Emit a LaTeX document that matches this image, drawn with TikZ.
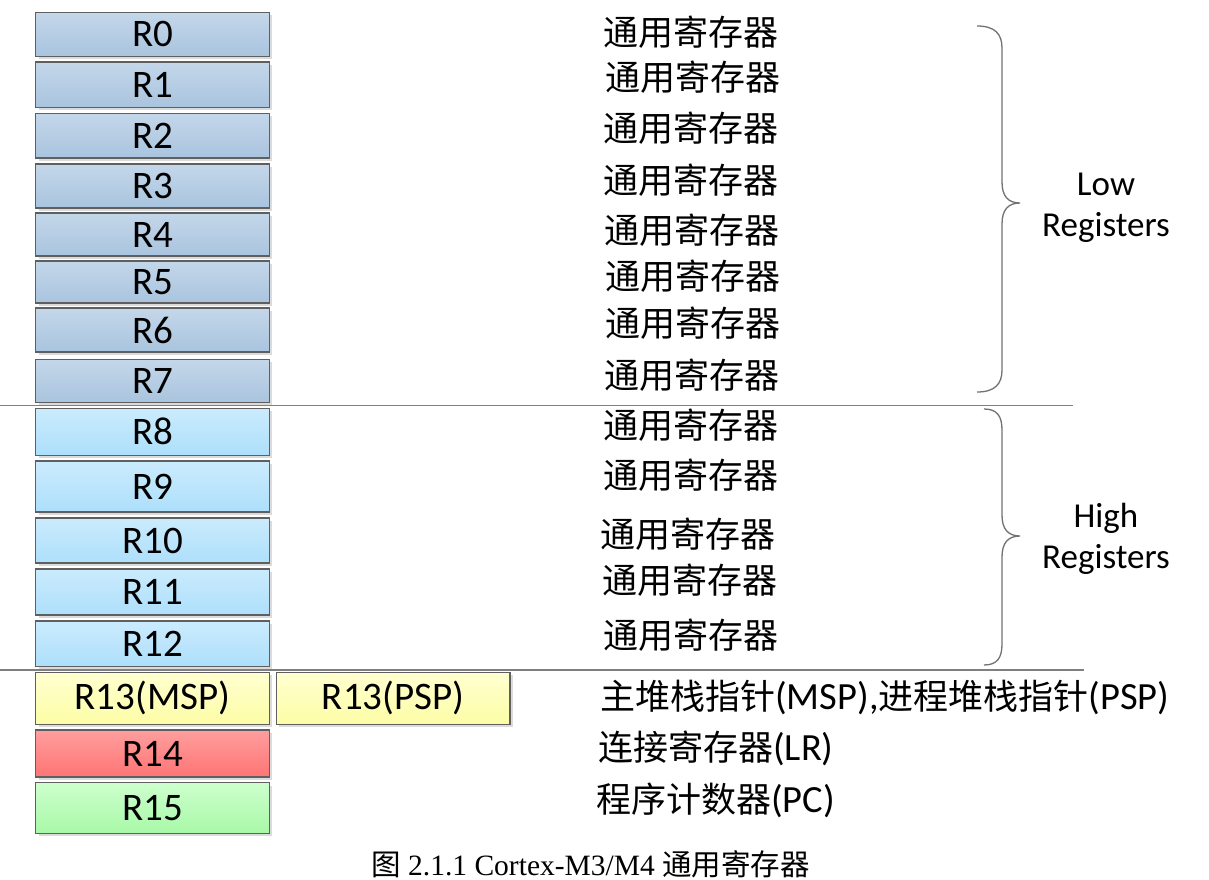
\documentclass[tikz,border=0pt]{standalone}
\usepackage{fontspec}
\setmainfont{Carlito}
\newfontfamily\cjk{Noto Sans CJK SC}
\newfontfamily\titlerm{Liberation Serif}
\newcommand\latpart[1]{{\fontspec{Carlito}\fontsize{38.5}{40}\selectfont #1}}
\usetikzlibrary{shadows}
\definecolor{lowtop}{HTML}{C4D7EA}
\definecolor{lowbot}{HTML}{A9C4DE}
\definecolor{hightop}{HTML}{CBEBFD}
\definecolor{highbot}{HTML}{ADDFFB}
\definecolor{yeltop}{HTML}{FFFFD0}
\definecolor{yelbot}{HTML}{FDFDA6}
\definecolor{redtop}{HTML}{FF9E9E}
\definecolor{redbot}{HTML}{FF7474}
\definecolor{grntop}{HTML}{CDFFCD}
\definecolor{grnbot}{HTML}{A8F8A8}
\definecolor{boxline}{HTML}{5F5F5F}
\definecolor{rule}{HTML}{7F7F7F}
\tikzset{
  regbox/.style={draw=boxline, line width=1.1pt, minimum width=233.6pt, inner sep=0pt,
    font=\fontsize{39}{42}\selectfont,
    drop shadow={shadow xshift=3pt, shadow yshift=-3pt, fill=black!14, opacity=1}},
  lowreg/.style={regbox, top color=lowtop, bottom color=lowbot},
  highreg/.style={regbox, top color=hightop, bottom color=highbot},
  spreg/.style={regbox, top color=yeltop, bottom color=yelbot},
  lrreg/.style={regbox, top color=redtop, bottom color=redbot},
  pcreg/.style={regbox, top color=grntop, bottom color=grnbot},
  desc/.style={anchor=west, inner sep=0pt, font=\fontsize{35}{40}\selectfont\cjk},
  grp/.style={inner sep=0pt, align=center, font=\fontsize{35}{41}\selectfont},
  divider/.style={draw=rule, line width=1.3pt},
  bracepath/.style={draw=rule!90!black, line width=1.3pt}
}
\begin{document}
\begin{tikzpicture}[x=1pt,y=-1pt]
\useasboundingbox (0,0) rectangle (1209,880);
% registers
\node[lowreg, minimum height=44pt] (r0) at (152.5,34.3) {R0};
\node[lowreg, minimum height=45.3pt] (r1) at (152.5,84.65) {R1};
\node[lowreg, minimum height=44.7pt] (r2) at (152.5,135.65) {R2};
\node[lowreg, minimum height=44pt] (r3) at (152.5,186) {R3};
\node[lowreg, minimum height=43pt] (r4) at (152.5,234.5) {R4};
\node[lowreg, minimum height=42pt] (r5) at (152.5,282) {R5};
\node[lowreg, minimum height=44pt] (r6) at (152.5,330) {R6};
\node[lowreg, minimum height=43pt] (r7) at (152.5,380.8) {R7};
\node[highreg, minimum height=47pt] (r8) at (152.5,431.8) {R8};
\node[highreg, minimum height=51pt] (r9) at (152.5,486.5) {R9};
\node[highreg, minimum height=45pt] (r10) at (152.5,540.5) {R10};
\node[highreg, minimum height=46pt] (r11) at (152.5,592) {R11};
\node[highreg, minimum height=45.7pt] (r12) at (152.5,643.85) {R12};
\node[spreg, minimum height=52pt] (r13m) at (152.5,698.3) {R13(MSP)};
\node[spreg, minimum height=52pt, minimum width=233.7pt] (r13p) at (393.15,698.3) {R13(PSP)};
\node[lrreg, minimum height=47pt] (r14) at (152.5,753.5) {R14};
\node[pcreg, minimum height=50.6pt] (r15) at (152.5,808) {R15};
% descriptions
\node[desc] (d0) at (603,32) {通用寄存器};
\node[desc] (d1) at (605,77) {通用寄存器};
\node[desc] (d2) at (603,128) {通用寄存器};
\node[desc] (d3) at (603,180) {通用寄存器};
\node[desc] (d4) at (604,230) {通用寄存器};
\node[desc] (d5) at (605,276) {通用寄存器};
\node[desc] (d6) at (605,323) {通用寄存器};
\node[desc] (d7) at (604,375) {通用寄存器};
\node[desc] (d8) at (603,425) {通用寄存器};
\node[desc] (d9) at (603,475) {通用寄存器};
\node[desc] (d10) at (600,534) {通用寄存器};
\node[desc] (d11) at (602,580) {通用寄存器};
\node[desc] (d12) at (603,635) {通用寄存器};
\node[desc] (d13) at (600,697) {主堆栈指针\latpart{(MSP),}进程堆栈指针\latpart{(PSP)}};
\node[desc] (d14) at (598,748) {连接寄存器\latpart{(LR)}};
\node[desc] (d15) at (596,800) {程序计数器\latpart{(PC)}};
% dividers
\draw[divider] (0,405.5) -- (1073,405.5);
\draw[divider] (0,670) -- (1084,670);
% braces
\draw[bracepath] (977,26) .. controls (995,26) and (1002,34) .. (1002,48)
  -- (1002,182) .. controls (1002,196) and (1008,203) .. (1020,203)
  .. controls (1008,203) and (1002,210) .. (1002,224)
  -- (1002,370) .. controls (1002,384) and (995,392) .. (977,392);
\draw[bracepath] (984,409) .. controls (997,409) and (1002,416) .. (1002,430)
  -- (1002,515) .. controls (1002,529) and (1008,536) .. (1020,536)
  .. controls (1008,536) and (1002,543) .. (1002,557)
  -- (1002,644) .. controls (1002,658) and (997,665) .. (984,665);
\node[grp] (low) at (1106,207.5) {Low\\Registers};
\node[grp] (high) at (1106,539) {High\\Registers};
% caption
\node[inner sep=0pt, font=\fontsize{29.5}{32}\selectfont\titlerm] (cap) at (590.5,864)
  {{\cjk 图} 2.1.1 Cortex-M3/M4 {\cjk 通用寄存器}};
\end{tikzpicture}
\end{document}
